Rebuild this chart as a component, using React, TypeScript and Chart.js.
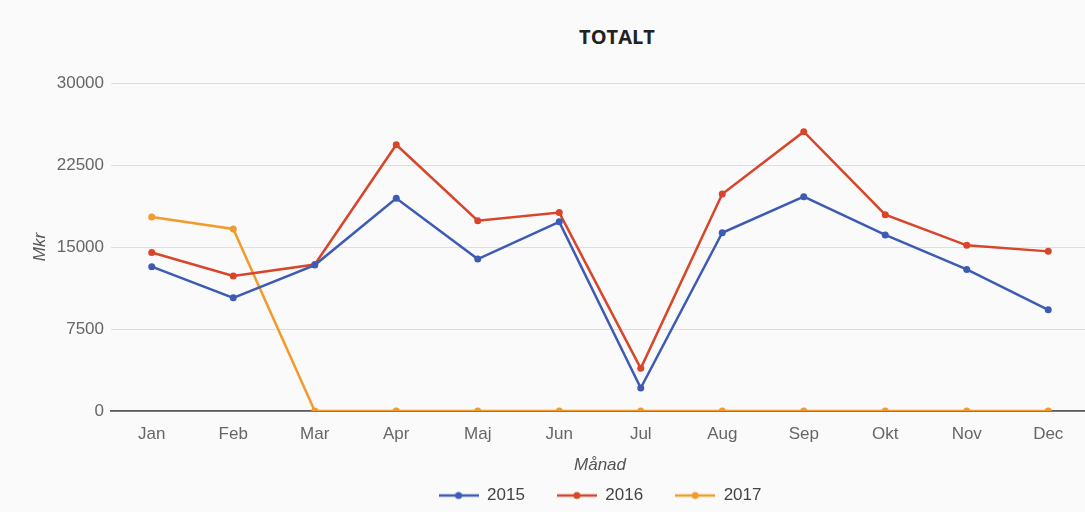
import React, { useEffect, useRef } from "react";
import { Chart, registerables } from "chart.js";

Chart.register(...registerables);

const months = ["Jan", "Feb", "Mar", "Apr", "Maj", "Jun", "Jul", "Aug", "Sep", "Okt", "Nov", "Dec"];
const values2015 = [13200, 10350, 13350, 19450, 13900, 17300, 2100, 16300, 19600, 16100, 12950, 9250];
const values2016 = [14500, 12350, 13400, 24350, 17400, 18150, 3900, 19850, 25550, 17950, 15150, 14600];
const values2017 = [17750, 16650, 0, 0, 0, 0, 0, 0, 0, 0, 0, 0];
const yTicks = [0, 7500, 15000, 22500, 30000];
const seriesNames = ["2015", "2016", "2017"];
const seriesColors = ["#3d5bb3", "#d8452a", "#f29b2c"];
const titleText = "TOTALT";
const yTitle = "Mkr";
const xTitle = "Månad";

function legendSwatch(color: string): HTMLCanvasElement {
  const c = document.createElement("canvas");
  c.width = 40;
  c.height = 10;
  const ctx = c.getContext("2d")!;
  ctx.strokeStyle = color;
  ctx.lineWidth = 2.5;
  ctx.beginPath();
  ctx.moveTo(0, 5);
  ctx.lineTo(40, 5);
  ctx.stroke();
  ctx.fillStyle = color;
  ctx.beginPath();
  ctx.arc(20, 5, 3.5, 0, Math.PI * 2);
  ctx.fill();
  return c;
}

export default function App() {
  const ref = useRef<HTMLCanvasElement | null>(null);

  useEffect(() => {
    if (!ref.current) return;
    const seriesValues = [values2015, values2016, values2017];
    const swatches = seriesColors.map(legendSwatch);
    const fontFamily = "'Liberation Sans', Arial, sans-serif";
    const chart = new Chart(ref.current, {
      type: "line",
      data: {
        labels: months,
        datasets: seriesNames.map((name, i) => ({
          label: name,
          data: seriesValues[i],
          borderColor: seriesColors[i],
          backgroundColor: seriesColors[i],
          borderWidth: 2.5,
          pointRadius: 3.5,
          pointBorderWidth: 0,
          pointBackgroundColor: seriesColors[i],
          pointStyle: "circle",
          tension: 0,
          fill: false,
        })),
      },
      options: {
        animation: false,
        responsive: false,
        layout: { padding: { left: 26, right: 0, top: 83, bottom: -2 } },
        scales: {
          x: {
            type: "category",
            offset: true,
            grid: { display: false, drawTicks: false },
            border: { display: true, color: "#5a5a5a", width: 1.8 },
            ticks: {
              padding: 13,
              color: "#666",
              font: { family: fontFamily, size: 17 },
              maxRotation: 0,
              autoSkip: false,
            },
            title: {
              display: true,
              text: xTitle,
              color: "#555",
              font: { family: fontFamily, size: 17, style: "italic" },
              padding: { top: 0, bottom: -20 },
            },
            afterFit: (scale: any) => {
              scale.height = 44;
            },
          },
          y: {
            min: 0,
            max: 30000,
            afterBuildTicks: (scale: any) => {
              scale.ticks = yTicks.map((v) => ({ value: v }));
            },
            grid: { color: "#dedede", lineWidth: 1, drawTicks: false },
            border: { display: false },
            ticks: {
              padding: 7,
              color: "#666",
              font: { family: fontFamily, size: 17 },
              callback: (v: any) => String(v),
            },
            title: {
              display: true,
              text: yTitle,
              color: "#555",
              font: { family: fontFamily, size: 17, style: "italic" },
              padding: { top: 4, bottom: 4 },
            },
            afterFit: (scale: any) => {
              scale.width = 85;
            },
          },
        },
        plugins: {
          title: { display: false },
          tooltip: { enabled: false },
          legend: {
            display: true,
            position: "bottom",
            fullSize: false,
            labels: {
              usePointStyle: true,
              pointStyleWidth: 40,
              padding: 32,
              color: "#444",
              font: { family: fontFamily, size: 17 },
              generateLabels: (ch: any) =>
                ch.data.datasets.map((ds: any, i: number) => ({
                  text: ds.label,
                  fillStyle: seriesColors[i],
                  strokeStyle: seriesColors[i],
                  lineWidth: 0,
                  pointStyle: swatches[i],
                  hidden: false,
                  datasetIndex: i,
                  fontColor: "#444",
                })),
            },
          },
        },
      },
    });
    return () => chart.destroy();
  }, []);

  return (
    <div
      style={{
        position: "fixed",
        left: 0,
        top: 0,
        width: 1085,
        height: 512,
        overflow: "hidden",
        background: "#fafafa",
      }}
    >
      <div
        style={{
          position: "absolute",
          left: 517,
          width: 200,
          top: 22,
          textAlign: "center",
          fontFamily: "'Open Sans', sans-serif",
          fontWeight: 700,
          fontSize: 20,
          lineHeight: "30px",
          color: "#222",
        }}
      >
        {titleText}
      </div>
      <canvas ref={ref} width={1093} height={512} style={{ position: "absolute", left: 0, top: 0, width: 1093, height: 512 }} />
    </div>
  );
}
